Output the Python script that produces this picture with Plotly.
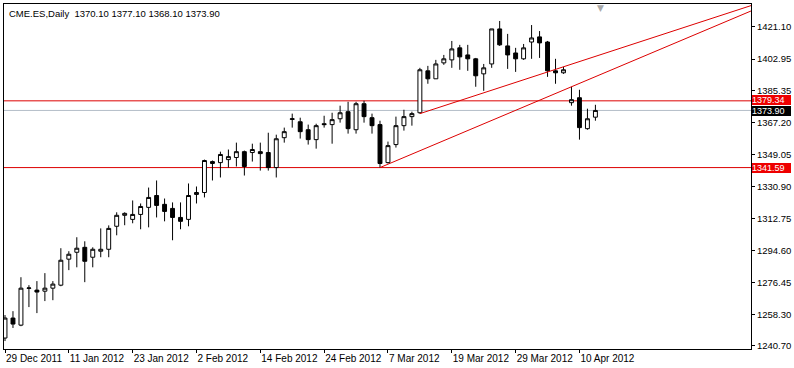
import plotly.graph_objects as go

# ---- data ----
bar_index = list(range(75))
opens = [1245.2, 1256.5, 1252.5, 1273.3, 1272.3, 1271.7, 1273.4, 1275.1, 1289.8, 1293.7,
         1296.5, 1290.9, 1294.3, 1295.4, 1308.4, 1314.6, 1312.3, 1315.1, 1319.1, 1325.8,
         1320.8, 1318.5, 1313.4, 1312.3, 1326.4, 1327.5, 1343.9, 1344.4, 1346.1, 1347.3,
         1350.6, 1350.1, 1350.6, 1350.1, 1341.6, 1358.5, 1368.8, 1367.5, 1363.0, 1357.4,
         1366.4, 1365.9, 1369.2, 1373.2, 1363.0, 1377.7, 1369.8, 1365.9, 1344.4, 1354.6,
         1365.3, 1370.4, 1372.6, 1396.3, 1391.8, 1400.8, 1402.5, 1409.3, 1405.3, 1403.1,
         1394.6, 1400.2, 1420.0, 1410.4, 1406.4, 1403.1, 1412.6, 1415.5, 1412.6, 1396.3,
         1395.2, 1378.3, 1381.1, 1363.6, 1370.1]
highs = [1258.2, 1260.4, 1279.6, 1275.1, 1277.4, 1281.9, 1277.4, 1296.0, 1294.3, 1302.2,
         1299.9, 1296.5, 1307.2, 1308.9, 1316.3, 1316.3, 1323.0, 1321.3, 1330.3, 1334.3,
         1324.1, 1321.9, 1321.9, 1332.6, 1330.9, 1346.1, 1345.6, 1350.6, 1351.8, 1355.7,
         1351.2, 1355.1, 1355.7, 1361.3, 1360.2, 1364.2, 1372.1, 1369.8, 1365.9, 1366.4,
         1370.9, 1372.6, 1376.6, 1378.8, 1378.8, 1379.4, 1372.1, 1368.1, 1356.3, 1370.4,
         1374.3, 1373.2, 1398.0, 1399.1, 1402.5, 1405.3, 1413.2, 1411.0, 1411.0, 1403.6,
         1400.2, 1420.0, 1424.5, 1417.2, 1409.3, 1411.5, 1422.2, 1418.8, 1413.2, 1403.1,
         1398.5, 1387.3, 1385.6, 1374.9, 1377.1]
lows = [1243.5, 1250.9, 1251.9, 1262.7, 1259.3, 1266.1, 1266.6, 1274.5, 1283.6, 1285.2,
        1276.8, 1285.2, 1290.9, 1290.9, 1303.3, 1309.0, 1310.1, 1306.7, 1307.8, 1313.4,
        1311.2, 1300.5, 1306.7, 1308.4, 1321.3, 1324.7, 1334.3, 1336.0, 1341.6, 1342.2,
        1337.1, 1345.0, 1339.9, 1339.9, 1336.0, 1355.7, 1364.2, 1358.0, 1354.6, 1352.3,
        1364.2, 1355.1, 1367.0, 1360.8, 1360.8, 1367.0, 1360.8, 1341.6, 1343.9, 1352.9,
        1362.5, 1365.3, 1372.1, 1389.0, 1391.8, 1399.7, 1398.0, 1396.9, 1396.3, 1387.3,
        1385.0, 1398.0, 1410.4, 1397.4, 1395.7, 1402.5, 1403.1, 1403.6, 1392.9, 1389.0,
        1394.6, 1376.6, 1357.4, 1363.0, 1368.1]
closes = [1256.5, 1253.1, 1273.4, 1273.5, 1271.2, 1273.4, 1275.7, 1289.2, 1292.6, 1296.0,
          1288.6, 1295.4, 1295.4, 1307.2, 1314.6, 1315.7, 1315.1, 1319.6, 1324.7, 1320.2,
          1316.8, 1313.4, 1311.2, 1325.8, 1327.5, 1345.6, 1345.0, 1349.0, 1347.8, 1350.6,
          1342.2, 1351.8, 1349.5, 1341.6, 1357.9, 1361.9, 1369.2, 1361.9, 1357.4, 1365.3,
          1365.9, 1368.7, 1372.6, 1363.6, 1377.7, 1370.4, 1365.3, 1343.9, 1354.0, 1365.3,
          1370.4, 1372.1, 1396.9, 1391.8, 1400.2, 1403.1, 1408.7, 1404.2, 1403.1, 1393.5,
          1398.0, 1420.0, 1411.0, 1405.3, 1403.1, 1409.3, 1414.9, 1412.1, 1396.3, 1395.2,
          1396.9, 1380.0, 1364.2, 1369.2, 1373.9]

x_tick_index = [0, 8, 16, 24, 32, 40, 48, 56, 64, 72]
x_tick_labels = ["29 Dec 2011", "11 Jan 2012", "23 Jan 2012", "2 Feb 2012", "14 Feb 2012",
                 "24 Feb 2012", "7 Mar 2012", "19 Mar 2012", "29 Mar 2012", "10 Apr 2012"]
y_tick_values = [1421.10, 1402.95, 1385.35, 1367.20, 1349.05, 1330.90,
                 1312.75, 1294.60, 1276.45, 1258.30, 1240.70]

# horizontal levels
resistance_level = 1379.34
support_level = 1341.59
bid_level = 1373.90

# trend lines (two anchor points each: bar index, price)
trend1_x = [52, 70]
trend1_y = [1372.1, 1398.6]
trend2_x = [47, 71]
trend2_y = [1341.6, 1387.3]

title_text = "CME.ES,Daily  1370.10 1377.10 1368.10 1373.90"

X_RANGE = [-0.125, 93.5]
Y_RANGE = [1239.0, 1434.1]

RED = "#dd0000"
FONT = "Liberation Sans"

fig = go.Figure()

fig.add_trace(go.Candlestick(
    x=bar_index, open=opens, high=highs, low=lows, close=closes,
    increasing=dict(line=dict(color="black", width=1), fillcolor="white"),
    decreasing=dict(line=dict(color="black", width=1), fillcolor="black"),
    whiskerwidth=0, showlegend=False, hoverinfo="skip"))


def ray(xs, ys, x_end):
    slope = (ys[1] - ys[0]) / (xs[1] - xs[0])
    return [xs[0], x_end], [ys[0], ys[0] + slope * (x_end - xs[0])]


for tx, ty in ((trend1_x, trend1_y), (trend2_x, trend2_y)):
    rx, ry = ray(tx, ty, 110)
    fig.add_trace(go.Scatter(x=rx, y=ry, mode="lines",
                             line=dict(color=RED, width=1),
                             showlegend=False, hoverinfo="skip"))

shapes = []
for lvl, col in ((resistance_level, RED), (support_level, RED), (bid_level, "#b4bec8")):
    shapes.append(dict(type="line", xref="paper", x0=0, x1=1, yref="y", y0=lvl, y1=lvl,
                       line=dict(color=col, width=1), layer="below"))

annotations = [
    dict(text=title_text, xref="paper", yref="paper", x=0, y=1, xanchor="left",
         yanchor="top", xshift=3, yshift=-2, showarrow=False,
         font=dict(family=FONT, size=9.5, color="black")),
]
# price tags on the right axis (bid tag drawn first so red tag stays on top)
for lvl, bg, nudge in ((bid_level, "black", -1), (resistance_level, "#ee0000", 1),
                       (support_level, "#ee0000", 0)):
    annotations.append(dict(text=f"{lvl:.2f}", xref="paper", yref="y", x=1, y=lvl,
                            xanchor="left", yanchor="middle", xshift=1, yshift=nudge,
                            showarrow=False, bgcolor=bg,
                            font=dict(family=FONT, size=9, color="white"),
                            width=39, height=10, align="left", borderpad=0, borderwidth=0))
# chart shift marker
annotations.append(dict(text="\u25bc", xref="x", yref="paper", x=len(bar_index) - 0.4, y=1,
                        yanchor="top", yshift=3, showarrow=False,
                        font=dict(family="DejaVu Sans", size=9, color="#a8a8a8")))

fig.update_layout(
    width=794, height=368,
    margin=dict(l=3, r=42, t=3, b=19),
    paper_bgcolor="white", plot_bgcolor="white",
    shapes=shapes, annotations=annotations,
    font=dict(family=FONT, size=9, color="black"),
    xaxis=dict(range=X_RANGE, rangeslider=dict(visible=False), showgrid=False,
               zeroline=False, showline=True, linecolor="black", linewidth=1, mirror=True,
               tickmode="array", tickvals=x_tick_index, ticktext=x_tick_labels,
               ticks="outside", ticklen=3, tickcolor="black", tickangle=0,
               ticklabelposition="outside right",
               tickfont=dict(family=FONT, size=10, color="black")),
    yaxis=dict(range=Y_RANGE, side="right", showgrid=False, zeroline=False,
               showline=True, linecolor="black", linewidth=1, mirror=True,
               tickmode="array", tickvals=y_tick_values,
               ticktext=[f"{v:.2f}" for v in y_tick_values],
               ticks="outside", ticklen=3, tickcolor="black",
               tickfont=dict(family=FONT, size=9.5, color="black")),
    hovermode=False,
)

fig.write_html("out.html", config={"displayModeBar": False},
               post_script="document.body.style.margin='0';")
